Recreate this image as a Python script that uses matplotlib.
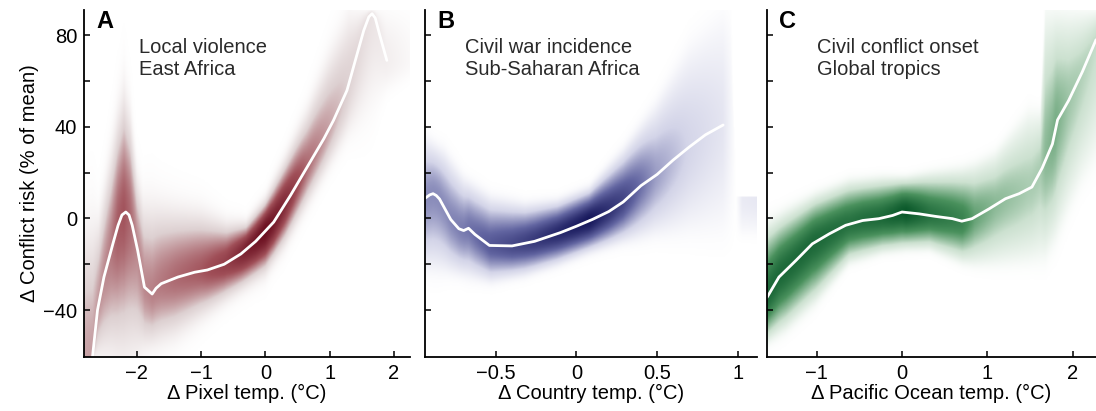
import numpy as np
import matplotlib.pyplot as plt
from matplotlib.colors import LinearSegmentedColormap

plt.rcParams['font.family'] = ['Liberation Sans', 'DejaVu Sans']

# Panel A: local violence, East Africa
a_x = [-2.69, -2.61, -2.51, -2.37, -2.29, -2.23, -2.17, -2.12, -2.07, -1.985, -1.88,
       -1.82, -1.76, -1.70, -1.62, -1.36, -1.10, -0.90, -0.64, -0.38, -0.15, 0.13, 0.39,
       0.65, 0.91, 1.06, 1.27, 1.40, 1.53, 1.61, 1.66, 1.71, 1.78, 1.89]
a_y = [-61, -40, -25.6, -11, -3.0, 1.5, 2.8, 1.5, -3.0, -14, -30,
       -31.5, -33, -30.5, -28.5, -25.6, -23.5, -22.5, -20, -15.5, -10, -1.6, 10,
       22.4, 34.8, 42.8, 55.9, 69, 82, 88, 89.4, 87.5, 80, 69]
a_band_x = [-2.82, -2.6, -2.4, -2.3, -2.2, -2.1, -2.0, -1.9, -1.7, -1.4, -1.0, -0.6,
            -0.3, 0.0, 0.3, 0.65, 1.0, 1.3, 1.6, 1.9, 2.25]
a_band_hi = [-2, 0, 30, 45, 56, 45, 20, 8, 7, 5, 3, -2, -2, 8, 25, 47, 72, 91, 91, 91, 91]
a_band_lo = [-61, -61, -61, -61, -61, -61, -61, -58, -56, -52, -44, -36, -30, -24, -12,
             5, 22, 36, 45, 55, 60]
a_band_shade = [0.45, 0.48, 0.56, 0.64, 0.66, 0.6, 0.52, 0.52, 0.55, 0.6, 0.65, 0.75,
                0.9, 1.0, 0.85, 0.6, 0.45, 0.32, 0.22, 0.12, 0.05]

# Panel B: civil war incidence, Sub-Saharan Africa
b_x = [-0.94, -0.91, -0.89, -0.87, -0.85, -0.78, -0.73, -0.70, -0.685, -0.67, -0.63,
       -0.54, -0.40, -0.26, -0.10, 0.0, 0.10, 0.20, 0.29, 0.40, 0.50, 0.60, 0.70,
       0.80, 0.91]
b_y = [8.8, 10.3, 10.8, 10.0, 8.5, -0.5, -4.5, -5.3, -4.8, -4.3, -7.0,
       -11.8, -12.0, -10.0, -6.2, -3.4, -0.4, 3.0, 7.2, 14.3, 19.2, 25.5, 31.2,
       36.5, 40.8]
b_band_x = [-0.94, -0.82, -0.70, -0.53, -0.32, -0.12, 0.08, 0.29, 0.49, 0.70, 0.91,
            0.96, 0.99, 1.03, 1.12]
b_band_hi = [36, 30, 18, 9.5, 6.5, 8, 13.5, 30, 50, 76, 91, 91, 9, 9, 9]
b_band_lo = [-23, -24, -26, -28.5, -25.6, -21, -15.5, -11, -8, -7, -8, -8, -8, -8, -8]
b_band_shade = [0.55, 0.55, 0.6, 0.72, 0.82, 0.92, 1.0, 0.8, 0.5, 0.32, 0.2, 0.08, 0.0,
                0.16, 0.18]

# Panel C: civil conflict onset, global tropics
c_x = [-1.58, -1.44, -1.24, -1.05, -0.85, -0.66, -0.46, -0.27, -0.11, 0.0, 0.2, 0.39,
       0.59, 0.70, 0.82, 1.02, 1.21, 1.37, 1.52, 1.64, 1.76, 1.82, 1.95, 2.11, 2.27]
c_y = [-34.5, -25.6, -18.3, -11.1, -6.7, -3.0, -0.9, -0.1, 1.3, 2.8, 2.0, 0.9,
       -0.1, -1.2, -0.1, 4.2, 8.6, 10.8, 13.7, 22.0, 32.5, 43.0, 51.5, 64.0, 78.0]
c_band_x = [-1.59, -1.36, -1.01, -0.62, -0.23, 0.05, 0.32, 0.71, 0.85, 1.09, 1.48,
            1.62, 1.68, 1.80, 1.95, 2.1, 2.27]
c_band_hi = [-2, 3.5, 10.8, 16.6, 18, 18, 20, 22, 24, 29, 47, 47, 91, 91, 91, 91, 91]
c_band_lo = [-55, -49, -37, -20, -15.5, -14, -14, -20, -21, -21, -20, -19, -18, -10,
             3, 15, 25]
c_band_shade = [0.9, 0.9, 0.9, 0.85, 0.9, 1.0, 0.85, 0.75, 0.6, 0.5, 0.42, 0.42,
                0.5, 0.55, 0.45, 0.4, 0.35]

ylim = (-60.5, 91)
y_ticks = [-40, -20, 0, 20, 40, 60, 80]


def wash(ax, xs, ys, bx, bhi, blo, bshade, colors, xlim, soft, k):
    # shaded band around the mean curve, darker where the estimates pile up
    gx = np.linspace(xlim[0], xlim[1], 600)
    gy = np.linspace(ylim[0], ylim[1], 450)
    m = np.interp(gx, xs, ys)
    hi = np.interp(gx, bx, bhi)
    lo = np.interp(gx, bx, blo)
    sh = np.interp(gx, bx, bshade)
    c = np.clip(m, lo, hi)
    Y = gy[:, None]
    up = (Y - c) / np.maximum(hi - c, 0.5)
    dn = (c - Y) / np.maximum(c - lo, 0.5)
    t = np.where(Y >= c, up, dn)
    dens = sh * np.exp(-k * t ** 2) / (1 + np.exp((t - 1) / soft))
    cmap = LinearSegmentedColormap.from_list('wash', colors)
    ax.imshow(dens, origin='lower', extent=[xlim[0], xlim[1], ylim[0], ylim[1]],
              aspect='auto', cmap=cmap, vmin=0, vmax=1, interpolation='bilinear',
              zorder=1)
    ax.plot(xs, ys, color='white', lw=2, zorder=3, solid_capstyle='round',
            solid_joinstyle='round')


fig = plt.figure(figsize=(10.96, 4.11), dpi=100)
bottom = 54 / 411
height = 347 / 411

panels = [
    dict(rect=[84 / 1096, bottom, 326 / 1096, height], xlim=(-2.82, 2.25),
         xs=a_x, ys=a_y, bx=a_band_x, bhi=a_band_hi, blo=a_band_lo, bsh=a_band_shade,
         colors=['#ffffff', '#ddd0d1', '#a04f58', '#680c1d'], soft=0.2, k=1.0,
         xticks=[-2, -1, 0, 1, 2], xticklabels=['\u22122', '\u22121', '0', '1', '2'],
         xlabel='\u0394 Pixel temp. (\u00b0C)', letter='A', tx=0.169,
         text='Local violence\nEast Africa'),
    dict(rect=[425 / 1096, bottom, 332 / 1096, height], xlim=(-0.94, 1.12),
         xs=b_x, ys=b_y, bx=b_band_x, bhi=b_band_hi, blo=b_band_lo, bsh=b_band_shade,
         colors=['#ffffff', '#d3d4e8', '#6265a1', '#16175b'], soft=0.1, k=1.4,
         xticks=[-0.5, 0, 0.5, 1], xticklabels=['\u22120.5', '0', '0.5', '1'],
         xlabel='\u0394 Country temp. (\u00b0C)', letter='B', tx=0.12,
         text='Civil war incidence\nSub-Saharan Africa'),
    dict(rect=[767 / 1096, bottom, 329 / 1096, height], xlim=(-1.58, 2.27),
         xs=c_x, ys=c_y, bx=c_band_x, bhi=c_band_hi, blo=c_band_lo, bsh=c_band_shade,
         colors=['#ffffff', '#cce1d0', '#4a915d', '#0a582a'], soft=0.08, k=1.5,
         xticks=[-1, 0, 1, 2], xticklabels=['\u22121', '0', '1', '2'],
         xlabel='\u0394 Pacific Ocean temp. (\u00b0C)', letter='C', tx=0.152,
         text='Civil conflict onset\nGlobal tropics'),
]

for i, p in enumerate(panels):
    ax = fig.add_axes(p['rect'])
    wash(ax, p['xs'], p['ys'], p['bx'], p['bhi'], p['blo'], p['bsh'], p['colors'],
         p['xlim'], p['soft'], p['k'])
    ax.set_xlim(p['xlim'])
    ax.set_ylim(ylim)
    for s in ['top', 'right']:
        ax.spines[s].set_visible(False)
    for s in ['left', 'bottom']:
        ax.spines[s].set_linewidth(1.3)
        ax.spines[s].set_zorder(5)
    ax.set_xticks(p['xticks'])
    ax.set_xticklabels(p['xticklabels'])
    ax.set_yticks(y_ticks)
    if i == 0:
        ax.set_yticklabels(['\u221240', '', '0', '', '40', '', '80'])
        ax.set_ylabel('\u0394 Conflict risk (% of mean)', fontsize=14.5, labelpad=3)
    else:
        ax.set_yticklabels([])
    ax.tick_params(direction='in', length=4, width=1.1, labelsize=14.5, pad=5)
    ax.set_xlabel(p['xlabel'], fontsize=14.5, labelpad=1)
    ax.text(0.037, 1.0, p['letter'], transform=ax.transAxes, fontsize=17,
            fontweight='bold', va='top', ha='left', zorder=6)
    ax.text(p['tx'], 0.918, p['text'], transform=ax.transAxes, fontsize=14.5,
            va='top', ha='left', color='#2a2a2a', linespacing=1.2, zorder=6)

fig.savefig('out.png', dpi=100)
